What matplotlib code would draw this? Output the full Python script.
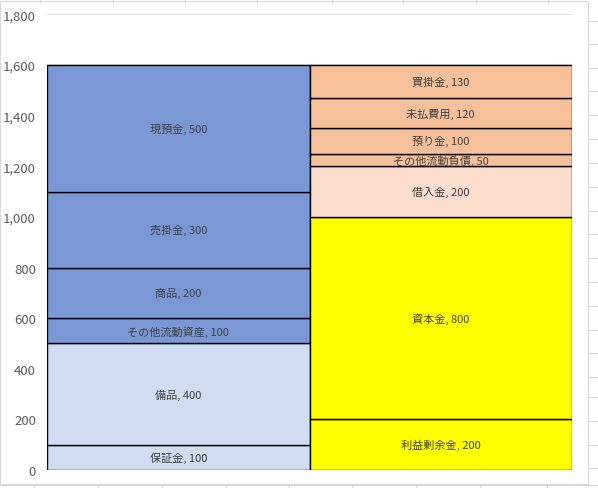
import numpy as np
import matplotlib.pyplot as plt
from matplotlib.ticker import FuncFormatter
from matplotlib.lines import Line2D
from matplotlib.patches import Rectangle

plt.rcParams['font.family'] = ['Noto Sans CJK JP', 'DejaVu Sans']

# left bar (assets), bottom to top
asset_names = ["保証金", "備品", "その他流動資産", "商品", "売掛金", "現預金"]
asset_values = [100, 400, 100, 200, 300, 500]
asset_colors = ["#D0DCF2", "#D0DCF2", "#7B98D6", "#7B98D6", "#7B98D6", "#7B98D6"]

# right bar (liabilities + equity), bottom to top
liab_names = ["利益剰余金", "資本金", "借入金", "その他流動負債", "預り金", "未払費用", "買掛金"]
liab_values = [200, 800, 200, 50, 100, 120, 130]
liab_colors = ["#FFFF00", "#FFFF00", "#FADDCC", "#F6C09A", "#F6C09A", "#F6C09A", "#F6C09A"]

yticks = np.arange(0, 1801, 200)

W, H = 598, 489
fig = plt.figure(figsize=(W/100, H/100), dpi=100)

# spreadsheet cell lines behind the chart
for x in [40, 113, 185, 257, 332, 403, 476, 548]:
    fig.add_artist(Line2D([x/W, x/W], [1, 1-3/H], color="#D4D4D4", lw=0.8))
for x in [34, 98, 162, 226, 289, 352, 416, 480, 547]:
    fig.add_artist(Line2D([x/W, x/W], [0, 4/H], color="#D4D4D4", lw=0.8))
for y in [22, 45, 69, 92, 116, 140, 164, 188, 212, 235, 259, 283, 307, 331, 354, 378, 398, 422, 446, 469]:
    fig.add_artist(Line2D([589/W, 1], [1-y/H, 1-y/H], color="#D4D4D4", lw=0.8))
fig.add_artist(Line2D([0, 1], [1-486/H, 1-486/H], color="#D4D4D4", lw=0.8))
# chart area border
fig.add_artist(Rectangle((0, 1-485/H), 588/W, 483/H, fill=False,
                         edgecolor="#D9D9D9", lw=0.8))

ax = fig.add_axes([47/W, 18/H, (572-47)/W, (489-18-15.4)/H])

def stack(ax, x, names, values, colors):
    bottom = 0
    for n, v, c in zip(names, values, colors):
        ax.bar(x, v, width=1.0, bottom=bottom, color=c, edgecolor="black",
               linewidth=1.0, zorder=3)
        ax.text(x, bottom + v/2, f"{n}, {v}", ha="center", va="center",
                fontsize=8, color="#404040", zorder=4)
        bottom += v

stack(ax, 0, asset_names, asset_values, asset_colors)
stack(ax, 1, liab_names, liab_values, liab_colors)

ax.set_xlim(-0.5, 1.5)
ax.set_ylim(0, 1800)
ax.set_yticks(yticks)
ax.yaxis.set_major_formatter(FuncFormatter(lambda v, p: f"{int(v):,}"))
ax.tick_params(axis="y", length=0, pad=8, labelsize=9.5, labelcolor="#595959")
ax.set_xticks([])
ax.grid(axis="y", color="#D9D9D9", lw=1.2, zorder=0)
for s in ax.spines.values():
    s.set_visible(False)

fig.savefig("out.png", dpi=100)
